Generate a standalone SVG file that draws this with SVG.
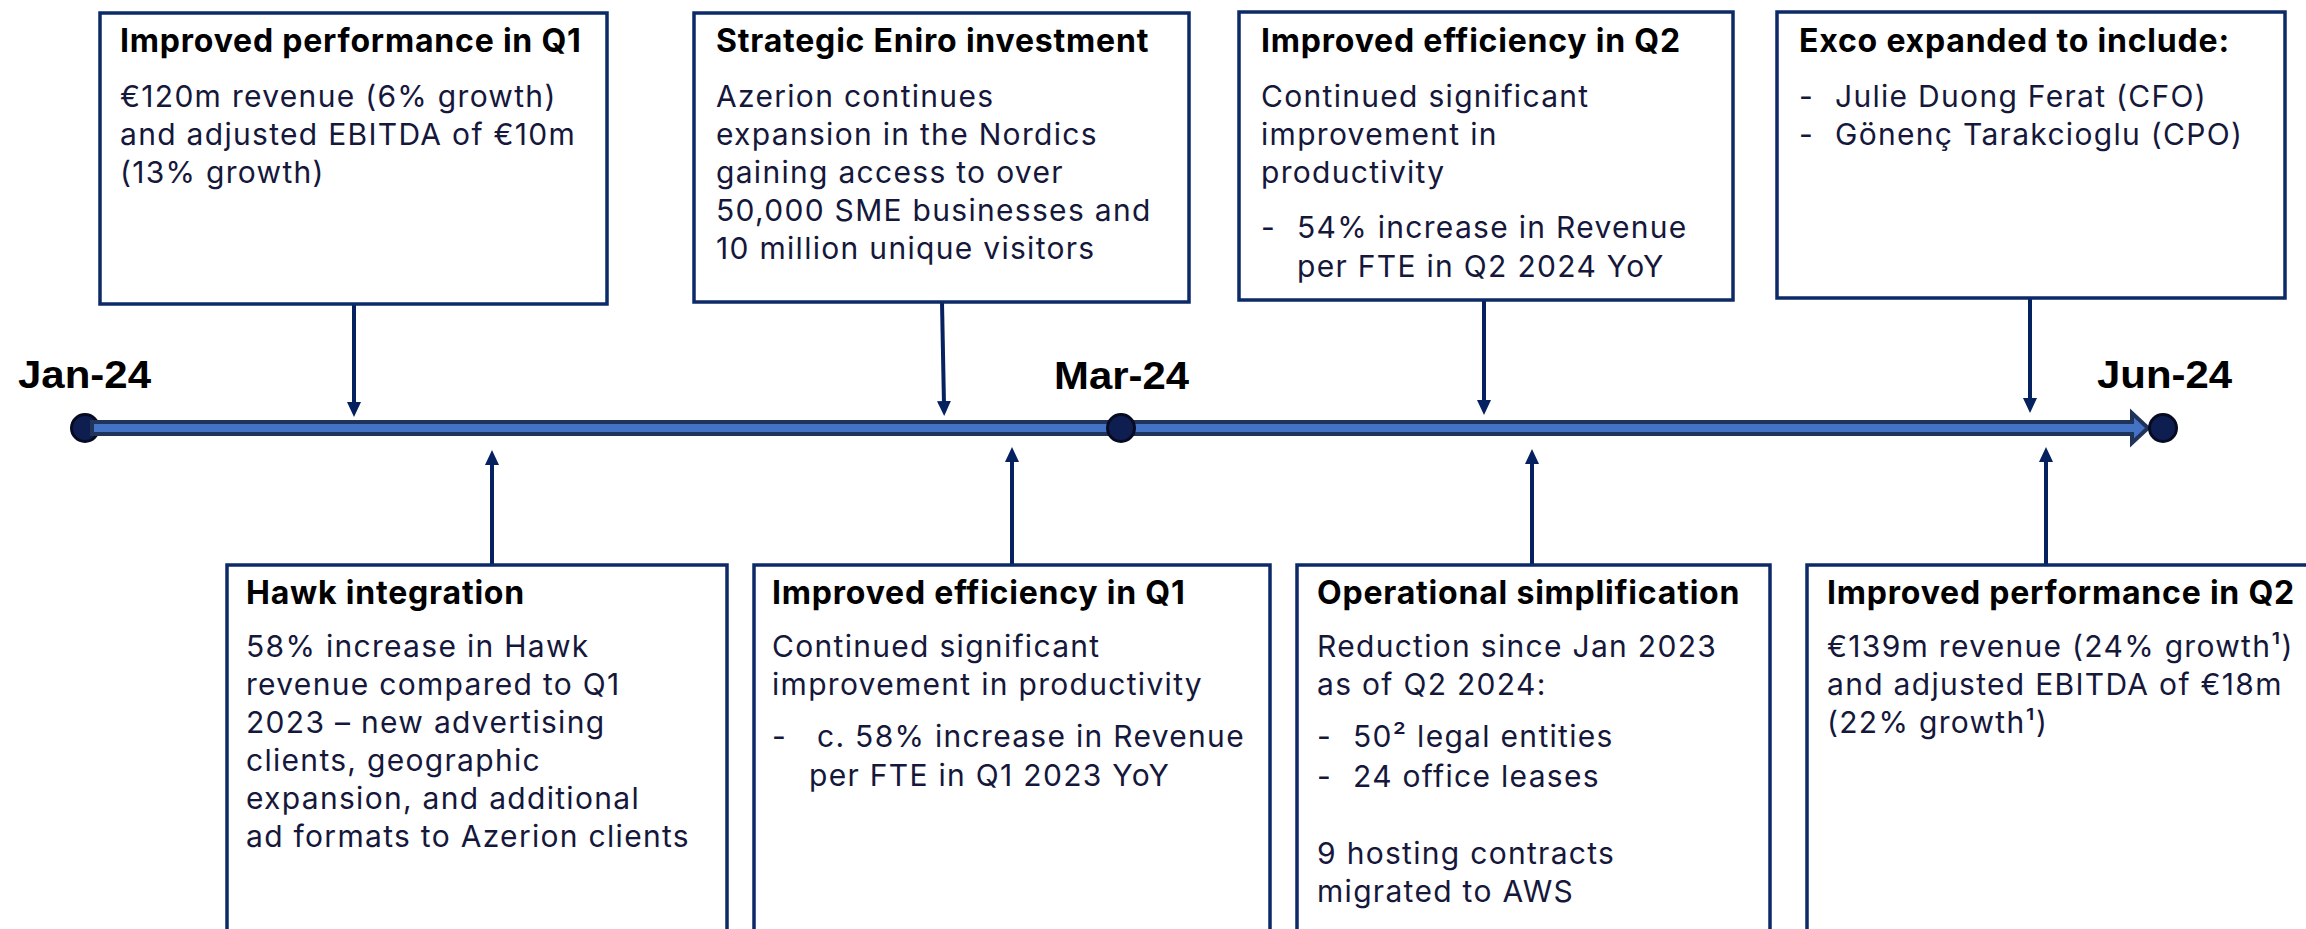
<svg xmlns="http://www.w3.org/2000/svg" width="2306" height="929" viewBox="0 0 2306 929">
  <defs>
    <style>
      .box { fill: #ffffff; stroke: #0C2A67; stroke-width: 3.5; }
      .ttl { font-family: Inter, "Open Sans", "Liberation Sans", sans-serif; font-weight: 700; font-size: 32px; fill: #000000; letter-spacing: 0.8px; }
      .txt { font-family: Inter, "Open Sans", "Liberation Sans", sans-serif; font-size: 30px; fill: #15173B; letter-spacing: 1.3px; }
      .date { font-family: "Liberation Sans", Arial, sans-serif; font-weight: 700; font-size: 38px; fill: #000000; }
      .conn { stroke: #06215F; stroke-width: 4; fill: none; marker-end: url(#ah); }
      .dot { fill: #0F1E50; stroke: #060B22; stroke-width: 3; }
    </style>
    <marker id="ah" markerUnits="userSpaceOnUse" viewBox="0 0 15 14" refX="4" refY="7" markerWidth="15" markerHeight="14" orient="auto">
      <path d="M0,0 L15,7 L0,14 Z" fill="#06215F"/>
    </marker>
  </defs>

  <rect width="2306" height="929" fill="#ffffff"/>

  <!-- timeline axis -->
  <g id="timeline">
    <circle class="dot" cx="85" cy="428" r="13.5"/>
    <path d="M92,422 H2132 V413 L2148,428 L2132,443 V434 H92 Z" fill="#4472C4" stroke="#1F3458" stroke-width="4" stroke-linejoin="miter"/>
    <circle class="dot" cx="1121" cy="428" r="13.5"/>
    <circle class="dot" cx="2163" cy="428" r="13.5"/>
    <text class="date" x="18" y="388" textLength="133" lengthAdjust="spacingAndGlyphs">Jan-24</text>
    <text class="date" x="1054" y="389" textLength="135" lengthAdjust="spacingAndGlyphs">Mar-24</text>
    <text class="date" x="2097" y="388" textLength="135" lengthAdjust="spacingAndGlyphs">Jun-24</text>
  </g>

  <!-- connectors from the event boxes to the axis -->
  <g id="connectors">
    <line class="conn" x1="354" y1="304" x2="354" y2="406"/>
    <line class="conn" x1="942" y1="302" x2="944" y2="405"/>
    <line class="conn" x1="1484" y1="300" x2="1484" y2="404"/>
    <line class="conn" x1="2030" y1="298" x2="2030" y2="402"/>
    <line class="conn" x1="492" y1="565" x2="492" y2="461"/>
    <line class="conn" x1="1012" y1="565" x2="1012" y2="458"/>
    <line class="conn" x1="1532" y1="565" x2="1532" y2="460"/>
    <line class="conn" x1="2046" y1="565" x2="2046" y2="458"/>
  </g>

  <!-- upper row -->
  <g id="perf-q1">
    <rect class="box" x="100" y="13" width="507" height="291"/>
    <text class="ttl" x="120" y="52">Improved performance in Q1</text>
    <text class="txt" x="120" y="107">€120m revenue (6% growth)</text>
    <text class="txt" x="120" y="145">and adjusted EBITDA of €10m</text>
    <text class="txt" x="120" y="183">(13% growth)</text>
  </g>

  <g id="eniro">
    <rect class="box" x="694" y="13" width="495" height="289"/>
    <text class="ttl" x="716" y="52">Strategic Eniro investment</text>
    <text class="txt" x="716" y="107">Azerion continues</text>
    <text class="txt" x="716" y="145">expansion in the Nordics</text>
    <text class="txt" x="716" y="183">gaining access to over</text>
    <text class="txt" x="716" y="221">50,000 SME businesses and</text>
    <text class="txt" x="716" y="259">10 million unique visitors</text>
  </g>

  <g id="eff-q2">
    <rect class="box" x="1239" y="12" width="494" height="288"/>
    <text class="ttl" x="1261" y="52">Improved efficiency in Q2</text>
    <text class="txt" x="1261" y="107">Continued significant</text>
    <text class="txt" x="1261" y="145">improvement in</text>
    <text class="txt" x="1261" y="183">productivity</text>
    <text class="txt" x="1261" y="238">-</text>
    <text class="txt" x="1297" y="238">54% increase in Revenue</text>
    <text class="txt" x="1297" y="277">per FTE in Q2 2024 YoY</text>
  </g>

  <g id="exco">
    <rect class="box" x="1777" y="12" width="508" height="286"/>
    <text class="ttl" x="1799" y="52">Exco expanded to include:</text>
    <text class="txt" x="1799" y="107">-</text>
    <text class="txt" x="1835" y="107">Julie Duong Ferat (CFO)</text>
    <text class="txt" x="1799" y="145">-</text>
    <text class="txt" x="1835" y="145">Gönenç Tarakcioglu (CPO)</text>
  </g>

  <!-- lower row (boxes run past the bottom edge) -->
  <g id="hawk">
    <rect class="box" x="227" y="565" width="500" height="400"/>
    <text class="ttl" x="246" y="604">Hawk integration</text>
    <text class="txt" x="246" y="657">58% increase in Hawk</text>
    <text class="txt" x="246" y="695">revenue compared to Q1</text>
    <text class="txt" x="246" y="733">2023 – new advertising</text>
    <text class="txt" x="246" y="771">clients, geographic</text>
    <text class="txt" x="246" y="809">expansion, and additional</text>
    <text class="txt" x="246" y="847">ad formats to Azerion clients</text>
  </g>

  <g id="eff-q1">
    <rect class="box" x="754" y="565" width="516" height="400"/>
    <text class="ttl" x="772" y="604">Improved efficiency in Q1</text>
    <text class="txt" x="772" y="657">Continued significant</text>
    <text class="txt" x="772" y="695">improvement in productivity</text>
    <text class="txt" x="772" y="747">-</text>
    <text class="txt" x="817" y="747">c. 58% increase in Revenue</text>
    <text class="txt" x="809" y="786">per FTE in Q1 2023 YoY</text>
  </g>

  <g id="simplification">
    <rect class="box" x="1297" y="565" width="473" height="400"/>
    <text class="ttl" x="1317" y="604">Operational simplification</text>
    <text class="txt" x="1317" y="657">Reduction since Jan 2023</text>
    <text class="txt" x="1317" y="695">as of Q2 2024:</text>
    <text class="txt" x="1317" y="747">-</text>
    <text class="txt" x="1353" y="747">50²<tspan> legal entities</tspan></text>
    <text class="txt" x="1317" y="787">-</text>
    <text class="txt" x="1353" y="787">24 office leases</text>
    <text class="txt" x="1317" y="864">9 hosting contracts</text>
    <text class="txt" x="1317" y="902">migrated to AWS</text>
  </g>

  <g id="perf-q2">
    <rect class="box" x="1807" y="565" width="520" height="400"/>
    <text class="ttl" x="1827" y="604">Improved performance in Q2</text>
    <text class="txt" x="1827" y="657">€139m revenue (24% growth¹)</text>
    <text class="txt" x="1827" y="695">and adjusted EBITDA of €18m</text>
    <text class="txt" x="1827" y="733">(22% growth¹)</text>
  </g>
</svg>
